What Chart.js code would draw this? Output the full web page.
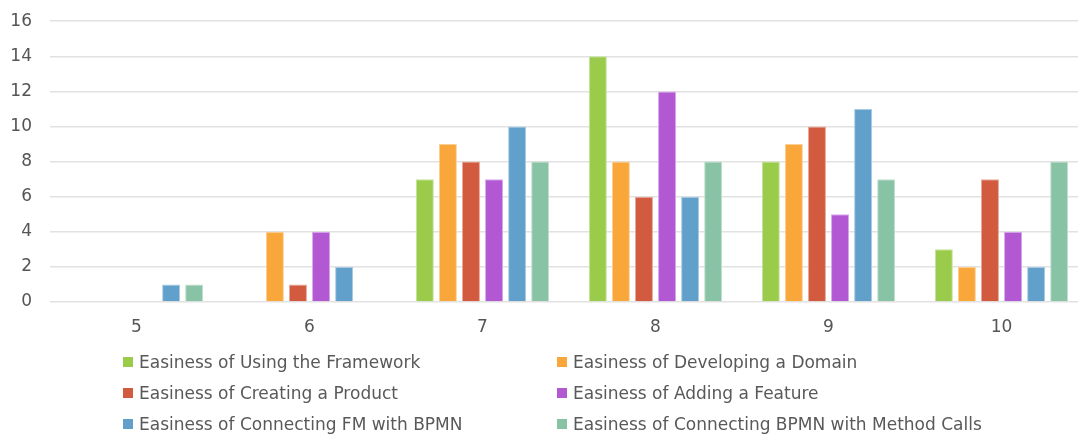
<!DOCTYPE html>
<html>
<head>
<meta charset="utf-8">
<script src="https://cdn.jsdelivr.net/npm/chart.js@4/dist/chart.umd.min.js"></script>
<style>
  html, body { margin: 0; padding: 0; background: #ffffff; overflow: hidden; }
  #wrap { position: relative; width: 1078px; height: 436px; overflow: hidden; }
  #box { position: absolute; left: 0; top: -7px; width: 1090px; height: 349px; }
  #legend { position: absolute; left: 0; top: 0; width: 1078px; height: 436px; pointer-events: none;
            font-family: "DejaVu Sans", sans-serif; font-size: 17px; color: #595959; }
  .item { position: absolute; height: 20px; line-height: 20px; white-space: nowrap; }
  .sw { position: absolute; left: 0; top: 5px; width: 10px; height: 10px; }
  .tx { position: absolute; left: 16px; top: 0; }
</style>
</head>
<body>
<div id="wrap">
  <div id="box"><canvas id="c"></canvas></div>
  <div id="legend"></div>
</div>
<script>
// Rating on the x axis, number of answers on the y axis
const categories = ['5', '6', '7', '8', '9', '10'];

const seriesNames = [
  'Easiness of Using the Framework',
  'Easiness of Developing a Domain',
  'Easiness of Creating a Product',
  'Easiness of Adding a Feature',
  'Easiness of Connecting FM with BPMN',
  'Easiness of Connecting BPMN with Method Calls'
];

const usingFramework   = [0, 0, 7, 14, 8, 3];
const developingDomain = [0, 4, 9, 8, 9, 2];
const creatingProduct  = [0, 1, 8, 6, 10, 7];
const addingFeature    = [0, 4, 7, 12, 5, 4];
const connectingFmBpmn = [1, 2, 10, 6, 11, 2];
const connectingBpmnMc = [1, 0, 8, 8, 7, 8];

const yTicks = [0, 2, 4, 6, 8, 10, 12, 14, 16];

const fills   = ['#9bcb4a', '#f9a63a', '#d25b3f', '#b158d2', '#61a0cb', '#88c3a5'];
const borders = ['#c4e39a', '#fccf95', '#e8a899', '#d8a6eb', '#aacbe3', '#c0dfcf'];

const seriesValues = [usingFramework, developingDomain, creatingProduct,
                      addingFeature, connectingFmBpmn, connectingBpmnMc];

const textColor = '#555555';
const fontFamily = '"DejaVu Sans", sans-serif';

const chart = new Chart(document.getElementById('c'), {
  type: 'bar',
  data: {
    labels: categories,
    datasets: seriesValues.map((vals, i) => ({
      label: seriesNames[i],
      data: vals,
      backgroundColor: fills[i],
      borderColor: borders[i],
      borderWidth: 1,
      borderSkipped: 'start',
      categoryPercentage: 0.80,
      barPercentage: 0.78
    }))
  },
  options: {
    responsive: true,
    maintainAspectRatio: false,
    animation: false,
    devicePixelRatio: 1,
    layout: { padding: { top: 13, right: 2, left: 0, bottom: 0 } },
    plugins: {
      legend: { display: false },
      tooltip: { enabled: false }
    },
    scales: {
      x: {
        grid: { display: false, drawTicks: false },
        border: { display: false },
        ticks: { color: textColor, font: { family: fontFamily, size: 17 }, padding: 15 },
        afterFit: s => { s.height = 40; }
      },
      y: {
        min: 0,
        max: 16,
        afterBuildTicks: s => { s.ticks = yTicks.map(v => ({ value: v })); },
        grid: { color: '#e2e2e2', lineWidth: 1.5, drawTicks: false },
        border: { display: false },
        ticks: { color: textColor, font: { family: fontFamily, size: 17 }, padding: 18 },
        afterFit: s => { s.width = 50; }
      }
    }
  }
});

// Two-column legend built from the chart's datasets
const legend = document.getElementById('legend');
const colX = [123, 557];
const rowY = [352, 383, 414];
chart.data.datasets.forEach((ds, i) => {
  const item = document.createElement('div');
  item.className = 'item';
  item.style.left = colX[i % 2] + 'px';
  item.style.top = rowY[Math.floor(i / 2)] + 'px';
  const sw = document.createElement('span');
  sw.className = 'sw';
  sw.style.background = ds.backgroundColor;
  const tx = document.createElement('span');
  tx.className = 'tx';
  tx.textContent = ds.label;
  item.appendChild(sw);
  item.appendChild(tx);
  legend.appendChild(item);
});
</script>
</body>
</html>
